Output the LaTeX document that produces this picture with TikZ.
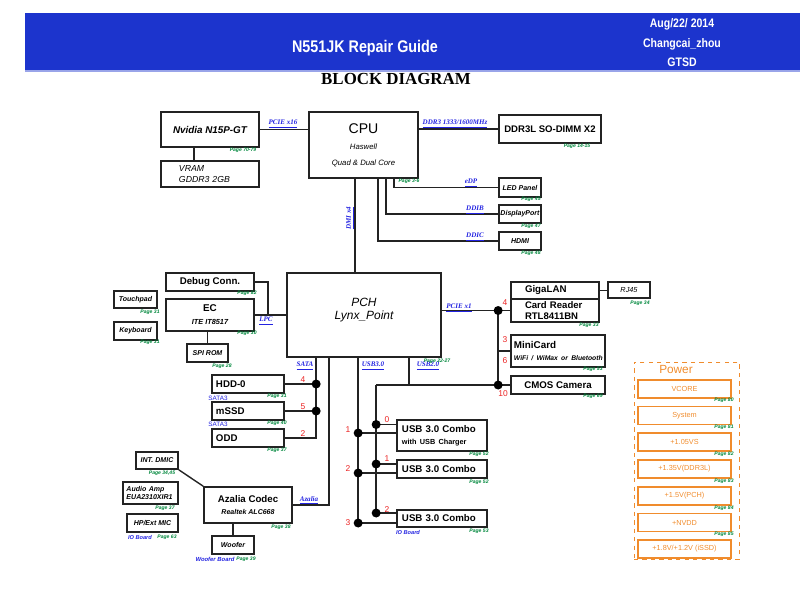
\documentclass[tikz,border=0pt]{standalone}
\usepackage{fontspec}
\setmainfont{Liberation Sans}
\newfontfamily\busfont{Liberation Serif}
\newfontfamily\hdrfont[FakeStretch=0.85]{Liberation Sans}
\usetikzlibrary{positioning, calc}
\definecolor{bdBlue}{RGB}{28,52,205}
\definecolor{bdBus}{RGB}{35,35,225}
\definecolor{bdGreen}{RGB}{0,135,60}
\definecolor{bdRed}{RGB}{235,35,35}
\definecolor{bdOrange}{RGB}{240,140,45}
\definecolor{bdLine}{RGB}{35,35,35}
\tikzset{
    wh/.style 2 args={
        minimum width=#1*0.025cm,
        minimum height=#2*0.025cm
    },
    box/.style={
        rectangle,
        draw=bdLine,
        line width=1.2pt,
        inner sep=0pt,
        align=center,
        font=\bfseries\fontsize{6.9}{8}\selectfont
    },
    smallbox/.style={
        box,
        font=\bfseries\itshape\fontsize{5}{6.2}\selectfont
    },
    wire/.style={
        draw=bdLine,
        line width=1pt
    },
    bus/.style={
        text=bdBus,
        inner sep=0pt,
        font=\busfont\bfseries\itshape\fontsize{5}{6}\selectfont
    },
    page/.style={
        text=bdGreen,
        inner sep=0pt,
        font=\bfseries\itshape\fontsize{3.6}{4}\selectfont
    },
    pin/.style={
        text=bdRed,
        inner sep=0pt,
        font=\fontsize{6}{7}\selectfont
    },
    note/.style={
        text=bdBus,
        inner sep=0pt,
        font=\fontsize{4.5}{5}\selectfont
    },
    hdr/.style={
        text=white,
        inner sep=0pt,
        font=\hdrfont\bfseries\fontsize{12}{14}\selectfont
    },
    stamp/.style={
        text=white,
        inner sep=0pt,
        font=\hdrfont\bfseries\fontsize{8.8}{10}\selectfont
    },
    heading/.style={
        inner sep=0pt,
        font=\busfont\bfseries\fontsize{12}{14}\selectfont
    },
    pwrframe/.style={
        draw=bdOrange,
        dashed,
        line width=0.6pt,
        inner sep=0pt
    },
    pwrbox/.style={
        draw=bdOrange,
        line width=1.1pt,
        inner sep=0pt,
        wh={93}{18},
        text=bdOrange,
        font=\fontsize{5.2}{6}\selectfont
    }
}
\begin{document}
\begin{tikzpicture}[x=0.025cm, y=-0.025cm]
    \useasboundingbox (0,0) rectangle (800,600);

    % Header
    \fill[bdBlue] (25,13) rectangle (800,71);
    \draw[bdBlue!45, line width=1pt] (25,71) -- (800,71);
    \node[hdr] (title) at (365,48) {N551JK Repair Guide};
    \node[stamp] (date) at (682,24) {Aug/22/ 2014};
    \node[stamp] (author) at (682,44) {Changcai\_zhou};
    \node[stamp] (dept) at (682,62) {GTSD};
    \node[heading] (bd) at (396,79) {BLOCK DIAGRAM};

    % CPU and graphics
    \node[box, wh={98}{35}, font=\bfseries\itshape\fontsize{7}{8}\selectfont] (gpu) at (210,129.5) {Nvidia N15P-GT};
    \node[box, align=left, text width=1.55cm, inner xsep=0.45cm, minimum height=26*0.025cm, font=\itshape\fontsize{6.2}{7.8}\selectfont] (vram) at (210,174) {VRAM\\GDDR3 2GB};
    \node[box, wh={109}{66}, font=\fontsize{10}{11}\selectfont] (cpu) at (363.5,145) {CPU\\[1pt]{\itshape\fontsize{5.5}{9}\selectfont Haswell}\\{\itshape\fontsize{5.5}{9}\selectfont Quad \& Dual Core}};
    \node[box, wh={102}{28}, font=\bfseries\fontsize{6.8}{8}\selectfont] (ddr) at (550,129) {DDR3L SO-DIMM X2};
    \node[smallbox, wh={42}{19}] (led) at (520,187.5) {LED Panel};
    \node[smallbox, wh={42}{18}] (dp) at (520,214) {DisplayPort};
    \node[smallbox, wh={42}{18}] (hdmi) at (520,241) {HDMI};

    % PCH and EC
    \node[box, wh={154}{84}, font=\itshape\fontsize{8.5}{9}\selectfont] (pch) at (364,315) {PCH\\Lynx\_Point\\\mbox{}};
    \node[box, wh={88}{18}] (debug) at (210,282) {Debug Conn.};
    \node[box, wh={88}{32}, font=\bfseries\fontsize{7}{9.2}\selectfont] (ec) at (210,315) {EC\\{\itshape\fontsize{5.2}{6}\selectfont ITE IT8517}};
    \node[smallbox, wh={43}{17}] (touchpad) at (135.5,299.5) {Touchpad};
    \node[smallbox, wh={43}{18}] (keyboard) at (135.5,331) {Keyboard};
    \node[smallbox, wh={41}{18}] (spirom) at (207.5,353) {SPI ROM};

    % LAN, cards, camera
    \node[box, align=left, text width=1.5cm, inner xsep=0.35cm, minimum height=17*0.025cm] (giga) at (555,290.5) {GigaLAN};
    \node[box, align=left, text width=1.5cm, inner xsep=0.35cm, minimum height=23*0.025cm, font=\bfseries\fontsize{6.8}{7.6}\selectfont] (card) at (555,310.5) {Card Reader\\RTL8411BN};
    \node[smallbox, wh={42}{16}, font=\itshape\fontsize{5.2}{6}\selectfont] (rj45) at (629,290) {RJ45};
    \node[box, align=left, text width=2.2cm, inner xsep=0.075cm, minimum height=32*0.025cm, font=\bfseries\fontsize{7}{9.2}\selectfont] (minicard) at (558,351) {MiniCard\\{\itshape\fontsize{4.8}{6}\selectfont\mbox{WiFi / WiMax or Bluetooth}}};
    \node[box, wh={94}{18}] (camera) at (558,385) {CMOS Camera};

    % Storage
    \node[box, align=left, text width=1.6cm, inner xsep=0.1cm, minimum height=18*0.025cm] (hdd) at (248,384) {HDD-0};
    \node[box, align=left, text width=1.6cm, inner xsep=0.1cm, minimum height=18*0.025cm] (mssd) at (248,411) {mSSD};
    \node[box, align=left, text width=1.6cm, inner xsep=0.1cm, minimum height=18*0.025cm] (odd) at (248,438) {ODD};

    % USB
    \node[box, align=left, text width=2cm, inner xsep=0.125cm, minimum height=31*0.025cm, font=\bfseries\fontsize{6.9}{8.2}\selectfont] (usba) at (442,435.5) {USB 3.0 Combo\\{\fontsize{5.2}{6}\selectfont with USB Charger}};
    \node[box, align=left, text width=2cm, inner xsep=0.125cm, minimum height=18*0.025cm] (usbb) at (442,469) {USB 3.0 Combo};
    \node[box, align=left, text width=2cm, inner xsep=0.125cm, minimum height=17*0.025cm] (usbc) at (442,518.5) {USB 3.0 Combo};

    % Audio
    \node[box, wh={88}{36}, font=\bfseries\fontsize{6.9}{8.4}\selectfont] (azalia) at (248,505) {Azalia Codec\\{\itshape\fontsize{5}{6}\selectfont Realtek ALC668}};
    \node[smallbox, wh={42}{17}] (dmic) at (157,460.5) {INT. DMIC};
    \node[smallbox, align=left, text width=1.2cm, inner xsep=0.0875cm, minimum height=22*0.025cm] (amp) at (150.5,493) {Audio Amp\\EUA2310XIR1};
    \node[smallbox, wh={51}{18}] (hpmic) at (152.5,523) {HP/Ext MIC};
    \node[smallbox, wh={42}{18}] (woofer) at (233,545) {Woofer};

    % Power
    \node[pwrframe, wh={105}{197}] (power) at (686.5,460.5) {};
    \node[text=bdOrange, inner sep=0pt, font=\fontsize{8.4}{9}\selectfont] (pwrhead) at (676,369) {Power};
    \foreach \i/\y/\txt in {1/389/{VCORE}, 2/415.5/{System}, 3/442/{+1.05VS}, 4/469/{+1.35V(DDR3L)}, 5/496/{+1.5V(PCH)}, 6/522.5/{+NVDD}, 7/549/{+1.8V/+1.2V (iSSD)}} {
        \node[pwrbox] (rail\i) at (684.5,\y) {\txt};
    }
    \foreach \i/\y in {0/400, 1/427.5, 2/454, 3/481, 4/508, 5/534} {
        \node[page] (railpg\i) at (724,\y) {Page 8\i};
    }

    % Bus taps
    \coordinate (vtap) at ($(gpu.south west)+(34,0)$);
    \coordinate (edp) at ($(cpu.south east)+(-25,0)$);
    \coordinate (ddib) at ($(cpu.south east)+(-33,0)$);
    \coordinate (ddic) at ($(cpu.south east)+(-41,0)$);
    \coordinate (dmi) at ($(cpu.south)+(-8.5,0)$);
    \coordinate (sata) at ($(pch.south west)+(30,0)$);
    \coordinate (hda) at ($(pch.south west)+(43,0)$);
    \coordinate (u3bus) at ($(pch.south west)+(72,0)$);
    \coordinate (u2drop) at ($(pch.south west)+(123,0)$);
    \coordinate (u2bus) at ($(u3bus)+(18,0)$);
    \coordinate (lanbus) at ($(giga.west)+(-12,0)$);
    \coordinate (ua2) at ($(usba.west)+(0,-11)$);
    \coordinate (ua3) at ($(usba.west)+(0,-2.5)$);
    \coordinate (ub2) at ($(usbb.west)+(0,-5)$);
    \coordinate (ub3) at ($(usbb.west)+(0,4)$);
    \coordinate (uc2) at ($(usbc.west)+(0,-5.5)$);
    \coordinate (uc3) at ($(usbc.west)+(0,4.5)$);

    % Connectors
    \draw[wire] (gpu.east) -- (gpu.east -| cpu.west);
    \draw[wire] (vtap) -- (vtap |- vram.north);
    \draw[wire] (cpu.east |- ddr.west) -- (ddr.west);
    \draw[wire] (edp) |- (led.west);
    \draw[wire] (ddib) |- (dp.west);
    \draw[wire] (ddic) |- (hdmi.west);
    \draw[wire] (dmi) -- (dmi |- pch.north);
    \draw[wire] (debug.east) -- ++(13,0) |- (pch.west);
    \draw[wire] (ec.east) -- (pch.west);
    \draw[wire] ($(touchpad.east)+(0,3.5)$) -- ($(touchpad.east)+(0,3.5)$ -| ec.west);
    \draw[wire] ($(keyboard.east)+(0,-4)$) -- ($(keyboard.east)+(0,-4)$ -| ec.west);
    \draw[wire] (spirom.north |- ec.south) -- (spirom.north);
    \draw[wire] (pch.east |- card.west) -- (card.west);
    \draw[wire] (giga.east) -- (giga.east -| rj45.west);
    \draw[wire] (lanbus |- card.west) -- (lanbus |- camera.west);
    \draw[wire] (lanbus |- minicard.west) -- (minicard.west);
    \draw[wire] (lanbus |- camera.west) -- (camera.west);
    \draw[wire] (sata) -- (sata |- odd.east) -- (odd.east);
    \draw[wire] (hdd.east) -- (hdd.east -| sata);
    \draw[wire] (mssd.east) -- (mssd.east -| sata);
    \draw[wire] (hda) |- (azalia.east);
    \draw[wire] (u3bus) -- (u3bus |- uc3);
    \draw[wire] (u2drop) -- (u2drop |- camera.west);
    \draw[wire] (u2bus |- camera.west) -- (lanbus |- camera.west);
    \draw[wire] (u2bus |- camera.west) -- (u2bus |- uc2);
    \foreach \u in {ua2, ub2, uc2} {
        \draw[wire] (\u -| u2bus) -- (\u);
    }
    \foreach \u in {ua3, ub3, uc3} {
        \draw[wire] (\u -| u3bus) -- (\u);
    }
    \draw[wire] (dmic.south east) -- (azalia.north west);
    \draw[wire] ($(amp.east)+(0,3)$) -- ($(amp.east)+(0,3)$ -| azalia.west);
    \draw[wire] ($(hpmic.east)+(0,-4)$) -- ($(hpmic.east)+(0,-4)$ -| azalia.west);
    \draw[wire] (woofer.north |- azalia.south) -- (woofer.north);

    % Junction dots
    \foreach \p in {hdd.east -| sata, mssd.east -| sata, lanbus |- card.west, lanbus |- camera.west, ua2 -| u2bus, ub2 -| u2bus, uc2 -| u2bus, ua3 -| u3bus, ub3 -| u3bus, uc3 -| u3bus} {
        \fill[black] (\p) circle (3.2pt);
    }

    % Bus labels
    \node[bus] (lpcie16) at (283,124) {\underline{PCIE x16}};
    \node[bus] (lddr) at (455,124) {\underline{DDR3 1333/1600MHz}};
    \node[bus] (ledp) at (471,183) {\underline{eDP}};
    \node[bus] (lddib) at (475,210) {\underline{DDIB}};
    \node[bus] (lddic) at (475,237) {\underline{DDIC}};
    \node[bus, rotate=90] (ldmi) at (350,218) {\underline{DMI x4}};
    \node[bus] (llpc) at (266,321) {\underline{LPC}};
    \node[bus] (lpcie1) at (459,308) {\underline{PCIE x1}};
    \node[bus] (lsata) at (305,366) {\underline{SATA}};
    \node[bus] (lusb3) at (373,366) {\underline{USB3.0}};
    \node[bus] (lusb2) at (428,366) {\underline{USB2.0}};
    \node[bus] (lhda) at (309,500) {\underline{Azalia}};

    % Port numbers
    \node[pin] (n4) at (303,380) {4};
    \node[pin] (n5) at (303,407) {5};
    \node[pin] (n2) at (303,434) {2};
    \node[pin] (c4) at (505,303) {4};
    \node[pin] (c3) at (505,340) {3};
    \node[pin] (c6) at (505,361) {6};
    \node[pin] (c10) at (503,394) {10};
    \node[pin] (u31) at (348,430) {1};
    \node[pin] (u32) at (348,469) {2};
    \node[pin] (u33) at (348,523) {3};
    \node[pin] (u20) at (387,420) {0};
    \node[pin] (u21) at (387,459) {1};
    \node[pin] (u22) at (387,510) {2};

    % Notes
    \node[note] (sata3a) at (218,398) {SATA3};
    \node[note] (sata3b) at (218,424) {SATA3};
    \node[note, font=\bfseries\itshape\fontsize{4}{5}\selectfont] (ioa) at (140,537) {IO Board};
    \node[note, font=\bfseries\itshape\fontsize{4}{5}\selectfont] (iob) at (408,532) {IO Board};
    \node[note, font=\bfseries\itshape\fontsize{4.2}{5}\selectfont] (wbrd) at (215,559) {Woofer Board};

    % Page references
    \node[page] (pggpu) at (243,150) {Page 70-79};
    \node[page] (pgcpu) at (409,181) {Page 3-6};
    \node[page] (pgddr) at (577,146) {Page 14-15};
    \node[page] (pgled) at (531,199) {Page 45};
    \node[page] (pgdp) at (531,226) {Page 47};
    \node[page] (pghdmi) at (531,253) {Page 48};
    \node[page] (pgdbg) at (247,293) {Page 82};
    \node[page] (pgec) at (247,333) {Page 30};
    \node[page] (pgtp) at (150,312) {Page 31};
    \node[page] (pgkb) at (150,342) {Page 31};
    \node[page] (pgspi) at (222,366) {Page 28};
    \node[page] (pgpch) at (437,361) {Page 22-27};
    \node[page] (pgcard) at (589,325) {Page 33};
    \node[page] (pgrj) at (640,303) {Page 34};
    \node[page] (pgmini) at (593,369) {Page 53};
    \node[page] (pgcam) at (593,396) {Page 69};
    \node[page] (pghdd) at (277,396) {Page 31};
    \node[page] (pgmssd) at (277,423) {Page 40};
    \node[page] (pgodd) at (277,450) {Page 37};
    \node[page] (pgusba) at (479,454) {Page 52};
    \node[page] (pgusbb) at (479,482) {Page 52};
    \node[page] (pgusbc) at (479,531) {Page 53};
    \node[page] (pgdmic) at (162,473) {Page 34,45};
    \node[page] (pgamp) at (165,508) {Page 37};
    \node[page] (pghp) at (167,537) {Page 63};
    \node[page] (pgaz) at (281,527) {Page 38};
    \node[page] (pgwf) at (246,559) {Page 39};
\end{tikzpicture}
\end{document}
